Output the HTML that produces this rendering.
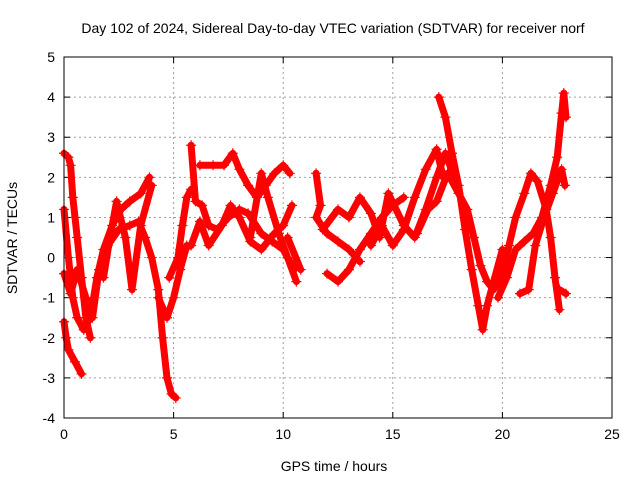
<!DOCTYPE html>
<html><head><meta charset="utf-8"><style>
body{margin:0;background:#fff;width:640px;height:480px;overflow:hidden}
svg text{font-family:"Liberation Sans",sans-serif;font-size:14px;fill:#000}
</style></head><body>
<svg id="chart" width="640" height="480">
<text x="333" y="33" text-anchor="middle">Day 102 of 2024, Sidereal Day-to-day VTEC variation (SDTVAR) for receiver norf</text>
<text x="334" y="471" text-anchor="middle">GPS time / hours</text>
<text transform="translate(17,238) rotate(-90)" text-anchor="middle">SDTVAR / TECUs</text>
<g id="grid"></g>
<g id="series"></g>
<rect x="64" y="57" width="548" height="361" fill="none" stroke="#000" stroke-width="1"/>
</svg>
<script>
const xTicks=[0,5,10,15,20,25];
const yTicks=[-4,-3,-2,-1,0,1,2,3,4,5];
const trace1=[[0,-1.6],[0.1,-2.0],[0.2,-2.3],[0.5,-2.6],[0.8,-2.9]];
const trace2=[[0,2.6],[0.2,2.5],[0.3,2.3],[0.4,1.5],[0.5,1.0],[0.6,0.5],[0.8,-0.5],[1,-1.5],[1.2,-2.0]];
const trace3=[[0,1.2],[0.2,0],[0.4,-1],[0.6,-1.5],[0.9,-1.8],[1.2,-1.5],[1.5,-0.5],[1.8,0.2],[2.2,0.8],[2.6,1.2],[3,1.4],[3.5,1.6],[3.9,2.0]];
const trace4=[[0,-0.4],[0.3,-0.9],[0.6,-0.3],[1,-1],[1.3,-1.5],[1.6,-0.3],[2,0.3],[2.5,0.7],[3,0.8],[3.4,0.9],[3.7,0.5],[4,0],[4.3,-0.8],[4.5,-2],[4.7,-3],[4.9,-3.4],[5.1,-3.5]];
const trace5=[[1.8,-0.5],[2.1,0.5],[2.4,1.4],[2.8,0.5],[3.1,-0.8],[3.5,0.8],[4,1.8]];
const trace6=[[4.3,-1],[4.7,-1.5],[5,-1],[5.3,-0.3],[5.6,0.3]];
const trace7=[[4.8,-0.5],[5.2,0],[5.4,0.8],[5.6,1.5],[5.8,1.7]];
const trace8=[[5.8,2.8],[6,1.4],[6.3,1.3],[6.6,0.8],[7,0.7],[7.5,1.0],[8,1.2],[8.4,1.1],[9,0.6],[9.5,0.4],[10,0.2],[10.5,-0.3]];
const trace9=[[6.2,2.3],[6.8,2.3],[7.3,2.3],[7.7,2.6],[8,2.2],[8.4,1.8],[8.8,1.5],[9.2,1.8],[9.6,2.1],[10,2.3],[10.3,2.1]];
const trace10=[[5.3,0.2],[5.8,0.3],[6.2,0.9],[6.6,0.3],[7.2,0.8],[7.6,1.3],[8,1.0],[8.5,0.4],[9,0.2],[9.6,0.6],[10,0.8],[10.4,1.3]];
const trace11=[[8.5,0.5],[9,2.1],[9.3,1.5],[9.8,0.6],[10.2,0],[10.6,-0.6]];
const trace12=[[10.2,0.5],[10.8,-0.3]];
const trace13=[[11.5,2.1],[11.7,1.3],[11.5,1],[12,0.6],[12.5,0.4],[13,0.2],[13.5,-0.1]];
const trace14=[[12,-0.4],[12.5,-0.6],[13,-0.3],[13.5,0.2],[14,0.6],[14.5,1],[15,1.3],[15.5,1.5]];
const trace15=[[11.8,0.7],[12.5,1.2],[13,1.0],[13.5,1.5],[14,1.1],[14.4,0.5],[14.8,1.6],[15.5,0.8],[16,0.5],[16.5,1.2],[17,2.0],[17.4,2.6],[17.8,2.0]];
const trace16=[[14,0.3],[14.5,0.8],[15,0.3],[15.5,0.7],[16,1.5],[16.5,2.2],[17,2.7],[17.3,2.0]];
const trace17=[[17.1,4.0],[17.4,3.5],[17.7,2.6],[18,1.8],[18.3,0.7],[18.6,-0.3],[18.9,-1.2],[19.1,-1.8],[19.3,-1.2],[19.6,-0.6],[20,0.2]];
const trace18=[[16.1,0.6],[16.6,1.2],[17,1.4],[17.5,2.1],[18,1.6],[18.4,1.2],[18.7,0.5],[19,-0.2],[19.3,-0.6],[19.6,-0.8],[20,-0.4],[20.3,0.3],[20.6,1.0],[21,1.6],[21.3,2.1],[21.6,1.9],[22,1.2],[22.2,0.5],[22.4,-0.5],[22.6,-1.3]];
const trace19=[[19.8,-1],[20.2,-0.5],[20.6,0.2],[21,0.4],[21.4,0.6],[21.8,1],[22.2,1.8],[22.5,2.5],[22.7,3.6],[22.8,4.1],[22.9,3.5]];
const trace20=[[20.8,-0.9],[21.2,-0.8],[21.5,0.3],[21.9,1.0],[22.3,1.6],[22.7,2.2],[22.85,1.8]];
const trace21=[[22.6,-0.8],[22.9,-0.9]];
const traces=[trace1,trace2,trace3,trace4,trace5,trace6,trace7,trace8,trace9,trace10,trace11,trace12,trace13,trace14,trace15,trace16,trace17,trace18,trace19,trace20,trace21];

const NS="http://www.w3.org/2000/svg";
const X0=64,X1=612,Y0=418,Y1=57;
const sx=v=>X0+(v-0)/(25-0)*(X1-X0);
const sy=v=>Y0-(v+4)/(5+4)*(Y0-Y1);
const grid=document.getElementById('grid');
function mk(tag,attrs,parent){const e=document.createElementNS(NS,tag);for(const k in attrs)e.setAttribute(k,attrs[k]);parent.appendChild(e);return e;}
xTicks.forEach(t=>{
  const x=sx(t);
  if(t>0&&t<25){const g=mk('line',{x1:x,x2:x,y1:Y1,y2:Y0,stroke:'#a0a0a0','stroke-dasharray':'2,3'},grid);
  
  }
  const tk=mk('line',{x1:x,x2:x,y1:Y0,y2:Y0-6,stroke:'#000'},grid);
  
  
  const tk2=mk('line',{x1:x,x2:x,y1:Y1,y2:Y1+6,stroke:'#000'},grid);
  
  
  const l=mk('text',{x:x,y:Y0+21,'text-anchor':'middle'},grid);l.textContent=t;
  
  
});
yTicks.forEach(t=>{
  const y=sy(t);
  if(t>-4&&t<5){const g=mk('line',{x1:X0,x2:X1,y1:y,y2:y,stroke:'#a0a0a0','stroke-dasharray':'2,3'},grid);
  
  }
  const tk=mk('line',{x1:X0,x2:X0+6,y1:y,y2:y,stroke:'#000'},grid);
  
  
  const tk2=mk('line',{x1:X1,x2:X1-6,y1:y,y2:y,stroke:'#000'},grid);
  
  
  const l=mk('text',{x:X0-9,y:y+5,'text-anchor':'end'},grid);l.textContent=t;
  
  
});
const ser=document.getElementById('series');
traces.forEach((tr,i)=>{
  const d=tr.map((p,j)=>(j?'L':'M')+sx(p[0]).toFixed(1)+','+sy(p[1]).toFixed(1)).join(' ');
  const p=mk('path',{d:d,fill:'none',stroke:'#ff0000','stroke-width':7,'stroke-linejoin':'round','stroke-linecap':'round'},ser);
  
  
  tr.forEach(pt=>{
    const x=sx(pt[0]),y=sy(pt[1]);
    const m=mk('path',{d:`M${x-5},${y}H${x+5}M${x},${y-5}V${y+5}`,stroke:'#ff0000','stroke-width':1.2},ser);
    
    
  });
});
</script>
</body></html>
